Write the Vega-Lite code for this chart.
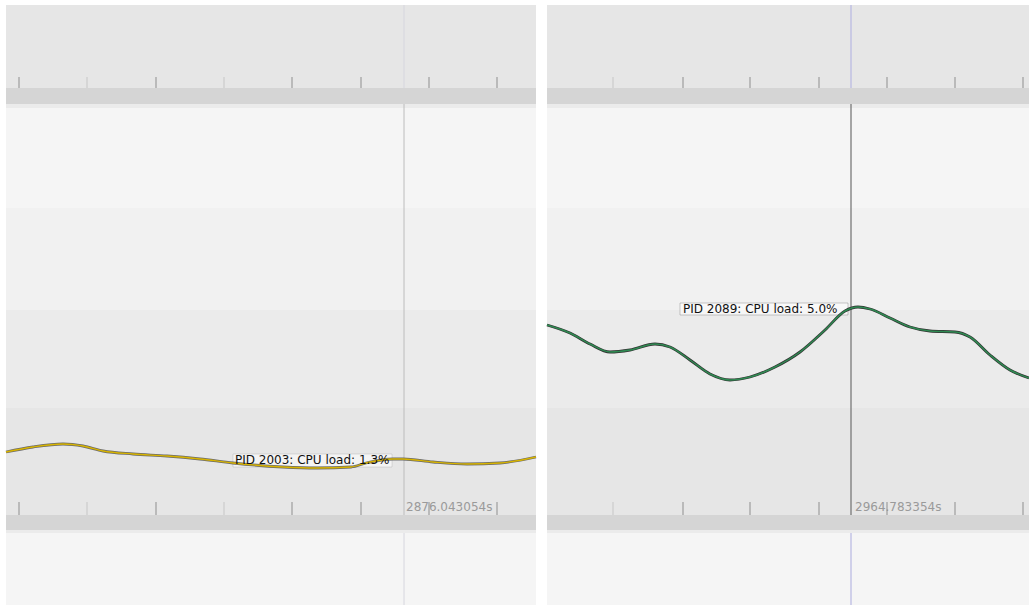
{
  "$schema": "https://vega.github.io/schema/vega-lite/v6.json",
  "padding": {"left": 0, "top": 4, "right": 0, "bottom": 0},
  "background": "white",
  "spacing": 11,
  "bounds": "flush",
  "config": {"view": {"stroke": null}, "text": {"font": "DejaVu Sans"}},
  "datasets": {
    "bands": [
      {"band": "header", "top": 0, "bottom": 83},
      {"band": "bar", "top": 83, "bottom": 99},
      {"band": "strip", "top": 99, "bottom": 103},
      {"band": "row1", "top": 103, "bottom": 203},
      {"band": "row2", "top": 203, "bottom": 305},
      {"band": "row3", "top": 305, "bottom": 403},
      {"band": "row4", "top": 403, "bottom": 510},
      {"band": "bar", "top": 510, "bottom": 525},
      {"band": "strip", "top": 525, "bottom": 528},
      {"band": "foot", "top": 528, "bottom": 601}
    ],
    "ticks": [
      {"panel": "L", "x": 13, "kind": "major", "top": 72, "bottom": 83},
      {"panel": "L", "x": 81, "kind": "minor", "top": 72, "bottom": 83},
      {"panel": "L", "x": 150, "kind": "major", "top": 72, "bottom": 83},
      {"panel": "L", "x": 218, "kind": "minor", "top": 72, "bottom": 83},
      {"panel": "L", "x": 286, "kind": "major", "top": 72, "bottom": 83},
      {"panel": "L", "x": 355, "kind": "major", "top": 72, "bottom": 83},
      {"panel": "L", "x": 423, "kind": "major", "top": 72, "bottom": 83},
      {"panel": "L", "x": 491, "kind": "major", "top": 72, "bottom": 83},
      {"panel": "L", "x": 13, "kind": "major", "top": 497, "bottom": 510},
      {"panel": "L", "x": 81, "kind": "minor", "top": 497, "bottom": 510},
      {"panel": "L", "x": 150, "kind": "major", "top": 497, "bottom": 510},
      {"panel": "L", "x": 218, "kind": "minor", "top": 497, "bottom": 510},
      {"panel": "L", "x": 286, "kind": "major", "top": 497, "bottom": 510},
      {"panel": "L", "x": 355, "kind": "major", "top": 497, "bottom": 510},
      {"panel": "L", "x": 423, "kind": "major", "top": 497, "bottom": 510},
      {"panel": "L", "x": 491, "kind": "major", "top": 497, "bottom": 510},
      {"panel": "R", "x": 66, "kind": "minor", "top": 72, "bottom": 83},
      {"panel": "R", "x": 136, "kind": "major", "top": 72, "bottom": 83},
      {"panel": "R", "x": 203, "kind": "major", "top": 72, "bottom": 83},
      {"panel": "R", "x": 272, "kind": "major", "top": 72, "bottom": 83},
      {"panel": "R", "x": 340, "kind": "major", "top": 72, "bottom": 83},
      {"panel": "R", "x": 408, "kind": "major", "top": 72, "bottom": 83},
      {"panel": "R", "x": 476, "kind": "major", "top": 72, "bottom": 83},
      {"panel": "R", "x": 66, "kind": "minor", "top": 497, "bottom": 510},
      {"panel": "R", "x": 136, "kind": "major", "top": 497, "bottom": 510},
      {"panel": "R", "x": 203, "kind": "major", "top": 497, "bottom": 510},
      {"panel": "R", "x": 272, "kind": "major", "top": 497, "bottom": 510},
      {"panel": "R", "x": 340, "kind": "major", "top": 497, "bottom": 510},
      {"panel": "R", "x": 408, "kind": "major", "top": 497, "bottom": 510},
      {"panel": "R", "x": 476, "kind": "major", "top": 497, "bottom": 510}
    ],
    "cursor": [
      {"panel": "L", "x": 398, "seg": "cursorEdgeL", "top": 0, "bottom": 83},
      {"panel": "L", "x": 398, "seg": "cursorMidL", "top": 99, "bottom": 510},
      {"panel": "L", "x": 398, "seg": "cursorEdgeL", "top": 528, "bottom": 601},
      {"panel": "R", "x": 304, "seg": "cursorEdgeR", "top": 0, "bottom": 83},
      {"panel": "R", "x": 304, "seg": "cursorMidR", "top": 99, "bottom": 510},
      {"panel": "R", "x": 304, "seg": "cursorEdgeR", "top": 528, "bottom": 601}
    ],
    "boxes": [
      {"panel": "L", "x0": 227, "x1": 386, "top": 449, "bottom": 462},
      {"panel": "R", "x0": 133, "x1": 301, "top": 298, "bottom": 310}
    ],
    "curves": [
      {"panel": "L", "t": 0, "load": 447},
      {"panel": "L", "t": 27, "load": 442},
      {"panel": "L", "t": 57, "load": 439},
      {"panel": "L", "t": 77, "load": 441},
      {"panel": "L", "t": 97, "load": 446},
      {"panel": "L", "t": 127, "load": 449},
      {"panel": "L", "t": 161, "load": 451},
      {"panel": "L", "t": 194, "load": 454},
      {"panel": "L", "t": 227, "load": 458},
      {"panel": "L", "t": 277, "load": 462},
      {"panel": "L", "t": 311, "load": 463},
      {"panel": "L", "t": 345, "load": 462},
      {"panel": "L", "t": 360, "load": 458},
      {"panel": "L", "t": 387, "load": 454},
      {"panel": "L", "t": 397, "load": 454},
      {"panel": "L", "t": 427, "load": 457},
      {"panel": "L", "t": 461, "load": 459},
      {"panel": "L", "t": 494, "load": 458},
      {"panel": "L", "t": 530, "load": 452},
      {"panel": "R", "t": 0, "load": 320},
      {"panel": "R", "t": 23, "load": 328},
      {"panel": "R", "t": 43, "load": 339},
      {"panel": "R", "t": 63, "load": 347},
      {"panel": "R", "t": 83, "load": 345},
      {"panel": "R", "t": 108, "load": 339},
      {"panel": "R", "t": 123, "load": 342},
      {"panel": "R", "t": 143, "load": 355},
      {"panel": "R", "t": 163, "load": 369},
      {"panel": "R", "t": 183, "load": 375},
      {"panel": "R", "t": 203, "load": 372},
      {"panel": "R", "t": 228, "load": 362},
      {"panel": "R", "t": 253, "load": 347},
      {"panel": "R", "t": 278, "load": 325},
      {"panel": "R", "t": 298, "load": 306},
      {"panel": "R", "t": 311, "load": 302},
      {"panel": "R", "t": 323, "load": 304},
      {"panel": "R", "t": 343, "load": 313},
      {"panel": "R", "t": 363, "load": 322},
      {"panel": "R", "t": 383, "load": 326},
      {"panel": "R", "t": 408, "load": 327},
      {"panel": "R", "t": 423, "load": 332},
      {"panel": "R", "t": 443, "load": 350},
      {"panel": "R", "t": 463, "load": 365},
      {"panel": "R", "t": 482, "load": 373}
    ],
    "labels": [
      {"panel": "L", "x": 229, "y": 455, "kind": "curveLabel", "text": "PID 2003: CPU load: 1.3%"},
      {"panel": "L", "x": 400, "y": 502, "kind": "timeLabel", "text": "2876.043054s"},
      {"panel": "R", "x": 136, "y": 304, "kind": "curveLabel", "text": "PID 2089: CPU load: 5.0%"},
      {"panel": "R", "x": 308, "y": 502, "kind": "timeLabel", "text": "2964.783354s"}
    ]
  },
  "hconcat": [
    {
      "width": 530,
      "height": 601,
      "layer": [
        {
          "data": {"name": "bands"},
          "mark": {"type": "rect"},
          "encoding": {
            "x": {"value": 0},
            "x2": {"value": "width"},
            "y": {"field": "top", "type": "quantitative", "scale": {"domain": [0, 601], "reverse": true, "nice": false, "zero": false}, "axis": null},
            "y2": {"field": "bottom"},
            "color": {"field": "band", "type": "nominal", "legend": null,
              "scale": {"domain": ["header","bar","strip","row1","row2","row3","row4","foot","major","minor","cursorEdgeL","cursorMidL","cursorEdgeR","cursorMidR","curveLabel","timeLabel"],
                        "range": ["#e6e6e6","#d5d5d5","#ebebeb","#f5f5f5","#f1f1f1","#ebebeb","#e6e6e6","#f5f5f5","#8e8e8e","#c6c6c6","#d6d6de","#bcbcbc","#b8b8e2","#707070","#111111","#9a9a9a"]}}
          }
        },
        {
          "data": {"name": "labels"},
          "transform": [{"filter": "datum.panel == 'L' && datum.kind == 'timeLabel'"}],
          "mark": {"type": "text", "align": "left", "baseline": "middle", "fontSize": 12},
          "encoding": {
            "x": {"field": "x", "type": "quantitative", "scale": {"domain": [0, 530], "nice": false, "zero": false}, "axis": null},
            "y": {"field": "y", "type": "quantitative", "axis": null},
            "text": {"field": "text"},
            "color": {"field": "kind", "type": "nominal", "legend": null}
          }
        },
        {
          "data": {"name": "ticks"},
          "transform": [{"filter": "datum.panel == 'L'"}],
          "mark": {"type": "rule", "strokeWidth": 1},
          "encoding": {
            "x": {"field": "x", "type": "quantitative", "axis": null},
            "y": {"field": "top", "type": "quantitative", "axis": null},
            "y2": {"field": "bottom"},
            "color": {"field": "kind", "type": "nominal", "legend": null}
          }
        },
        {
          "data": {"name": "cursor"},
          "transform": [{"filter": "datum.panel == 'L'"}],
          "mark": {"type": "rule", "strokeWidth": 1},
          "encoding": {
            "x": {"field": "x", "type": "quantitative", "axis": null},
            "y": {"field": "top", "type": "quantitative", "axis": null},
            "y2": {"field": "bottom"},
            "color": {"field": "seg", "type": "nominal", "legend": null}
          }
        },
        {
          "data": {"name": "boxes"},
          "transform": [{"filter": "datum.panel == 'L'"}],
          "mark": {"type": "rect", "fill": "#ffffff", "fillOpacity": 0.55, "stroke": "#777777", "strokeOpacity": 0.35, "strokeWidth": 0.6},
          "encoding": {
            "x": {"field": "x0", "type": "quantitative", "axis": null},
            "x2": {"field": "x1"},
            "y": {"field": "top", "type": "quantitative", "axis": null},
            "y2": {"field": "bottom"}
          }
        },
        {
          "data": {"name": "curves"},
          "transform": [{"filter": "datum.panel == 'L'"}],
          "mark": {"type": "line", "interpolate": "monotone", "color": "#4a4a4a", "strokeWidth": 2.8, "strokeOpacity": 0.8},
          "encoding": {
            "x": {"field": "t", "type": "quantitative", "axis": null},
            "y": {"field": "load", "type": "quantitative", "axis": null}
          }
        },
        {
          "data": {"name": "curves"},
          "transform": [{"filter": "datum.panel == 'L'"}],
          "mark": {"type": "line", "interpolate": "monotone", "color": "#d8b400", "strokeWidth": 1.3},
          "encoding": {
            "x": {"field": "t", "type": "quantitative", "axis": null},
            "y": {"field": "load", "type": "quantitative", "axis": null}
          }
        },
        {
          "data": {"name": "labels"},
          "transform": [{"filter": "datum.panel == 'L' && datum.kind == 'curveLabel'"}],
          "mark": {"type": "text", "align": "left", "baseline": "middle", "fontSize": 12},
          "encoding": {
            "x": {"field": "x", "type": "quantitative", "axis": null},
            "y": {"field": "y", "type": "quantitative", "axis": null},
            "text": {"field": "text"},
            "color": {"field": "kind", "type": "nominal", "legend": null}
          }
        }
      ]
    },
    {
      "width": 482,
      "height": 601,
      "layer": [
        {
          "data": {"name": "bands"},
          "mark": {"type": "rect"},
          "encoding": {
            "x": {"value": 0},
            "x2": {"value": "width"},
            "y": {"field": "top", "type": "quantitative", "scale": {"domain": [0, 601], "reverse": true, "nice": false, "zero": false}, "axis": null},
            "y2": {"field": "bottom"},
            "color": {"field": "band", "type": "nominal", "legend": null,
              "scale": {"domain": ["header","bar","strip","row1","row2","row3","row4","foot","major","minor","cursorEdgeL","cursorMidL","cursorEdgeR","cursorMidR","curveLabel","timeLabel"],
                        "range": ["#e6e6e6","#d5d5d5","#ebebeb","#f5f5f5","#f1f1f1","#ebebeb","#e6e6e6","#f5f5f5","#8e8e8e","#c6c6c6","#d6d6de","#bcbcbc","#b8b8e2","#707070","#111111","#9a9a9a"]}}
          }
        },
        {
          "data": {"name": "labels"},
          "transform": [{"filter": "datum.panel == 'R' && datum.kind == 'timeLabel'"}],
          "mark": {"type": "text", "align": "left", "baseline": "middle", "fontSize": 12},
          "encoding": {
            "x": {"field": "x", "type": "quantitative", "scale": {"domain": [0, 482], "nice": false, "zero": false}, "axis": null},
            "y": {"field": "y", "type": "quantitative", "axis": null},
            "text": {"field": "text"},
            "color": {"field": "kind", "type": "nominal", "legend": null}
          }
        },
        {
          "data": {"name": "ticks"},
          "transform": [{"filter": "datum.panel == 'R'"}],
          "mark": {"type": "rule", "strokeWidth": 1},
          "encoding": {
            "x": {"field": "x", "type": "quantitative", "axis": null},
            "y": {"field": "top", "type": "quantitative", "axis": null},
            "y2": {"field": "bottom"},
            "color": {"field": "kind", "type": "nominal", "legend": null}
          }
        },
        {
          "data": {"name": "cursor"},
          "transform": [{"filter": "datum.panel == 'R'"}],
          "mark": {"type": "rule", "strokeWidth": 1.2},
          "encoding": {
            "x": {"field": "x", "type": "quantitative", "axis": null},
            "y": {"field": "top", "type": "quantitative", "axis": null},
            "y2": {"field": "bottom"},
            "color": {"field": "seg", "type": "nominal", "legend": null}
          }
        },
        {
          "data": {"name": "boxes"},
          "transform": [{"filter": "datum.panel == 'R'"}],
          "mark": {"type": "rect", "fill": "#ffffff", "fillOpacity": 0.55, "stroke": "#555555", "strokeOpacity": 0.5, "strokeWidth": 0.6},
          "encoding": {
            "x": {"field": "x0", "type": "quantitative", "axis": null},
            "x2": {"field": "x1"},
            "y": {"field": "top", "type": "quantitative", "axis": null},
            "y2": {"field": "bottom"}
          }
        },
        {
          "data": {"name": "curves"},
          "transform": [{"filter": "datum.panel == 'R'"}],
          "mark": {"type": "line", "interpolate": "monotone", "color": "#333333", "strokeWidth": 2.8},
          "encoding": {
            "x": {"field": "t", "type": "quantitative", "axis": null},
            "y": {"field": "load", "type": "quantitative", "axis": null}
          }
        },
        {
          "data": {"name": "curves"},
          "transform": [{"filter": "datum.panel == 'R'"}],
          "mark": {"type": "line", "interpolate": "monotone", "color": "#2f8a52", "strokeWidth": 1.5},
          "encoding": {
            "x": {"field": "t", "type": "quantitative", "axis": null},
            "y": {"field": "load", "type": "quantitative", "axis": null}
          }
        },
        {
          "data": {"name": "labels"},
          "transform": [{"filter": "datum.panel == 'R' && datum.kind == 'curveLabel'"}],
          "mark": {"type": "text", "align": "left", "baseline": "middle", "fontSize": 12},
          "encoding": {
            "x": {"field": "x", "type": "quantitative", "axis": null},
            "y": {"field": "y", "type": "quantitative", "axis": null},
            "text": {"field": "text"},
            "color": {"field": "kind", "type": "nominal", "legend": null}
          }
        }
      ]
    }
  ]
}
